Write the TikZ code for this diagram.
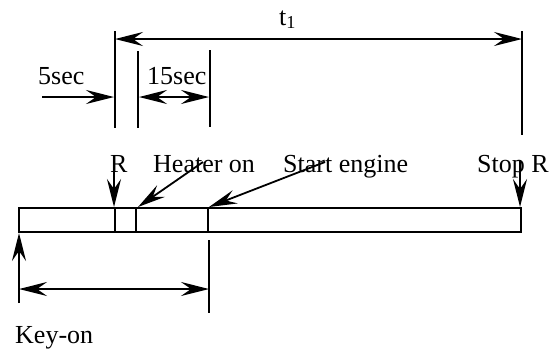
\documentclass[tikz,border=0pt]{standalone}
\usepackage{fontspec}
\setmainfont{Liberation Serif}
\usetikzlibrary{arrows.meta}
\begin{document}
\begin{tikzpicture}[x=1pt,y=-1pt,
  lbl/.style={anchor=base west,inner sep=0pt,font=\fontsize{26}{30}\selectfont},
  tickline/.style={line width=1.8pt},
  hd/.tip={Stealth[length=28pt,width=14pt,inset=10pt]},
  arr/.style={line width=1.8pt,-hd},
  darr/.style={line width=1.8pt,hd-hd},
  barline/.style={line width=1.4pt}]
\useasboundingbox (0,0) rectangle (553,349);
% bar
\coordinate (b0) at (19,208);
\coordinate (b5) at (521,232);
\coordinate (d1t) at (115,208); \coordinate (d1b) at (115,232);
\coordinate (d2t) at (136,208); \coordinate (d2b) at (136,232);
\coordinate (d3t) at (208,208); \coordinate (d3b) at (208,232);
\draw[barline] (b0) rectangle (b5);
\draw[barline] (d1t) -- (d1b) (d2t) -- (d2b) (d3t) -- (d3b);
% top ticks
\coordinate (k1a) at (115,31); \coordinate (k1b) at (115,128);
\coordinate (k2a) at (138,51); \coordinate (k2b) at (138,128);
\coordinate (k3a) at (210,50); \coordinate (k3b) at (210,127);
\coordinate (k4a) at (522,31); \coordinate (k4b) at (522,135);
\draw[tickline] (k1a) -- (k1b) (k2a) -- (k2b) (k3a) -- (k3b) (k4a) -- (k4b);
% dimension arrows
\coordinate (t1l) at (115,39); \coordinate (t1r) at (522,39);
\draw[darr] (t1l) -- (t1r);
\coordinate (s5a) at (42,97); \coordinate (s5b) at (114,97);
\draw[arr] (s5a) -- (s5b);
\coordinate (s15a) at (139,97); \coordinate (s15b) at (209,97);
\draw[darr] (s15a) -- (s15b);
% labels
\node[lbl] (t1) at (279,25) {t\textsubscript{1}};
\node[lbl] (five) at (38,84) {5sec};
\node[lbl] (fifteen) at (147,84) {15sec};
\node[lbl] (r) at (110,172) {R};
\node[lbl] (heater) at (153,172) {Heater on};
\node[lbl] (start) at (283,172) {Start engine};
\node[lbl] (stop) at (477,172) {Stop R};
\node[lbl] (keyon) at (15,343) {Key-on};
% pointer arrows
\coordinate (ra) at (114,157); \coordinate (rb) at (114,207);
\draw[arr] (ra) -- (rb);
\coordinate (ha) at (203,162); \coordinate (hb) at (138,207);
\draw[arr] (ha) -- (hb);
\coordinate (sa) at (325,162); \coordinate (sb) at (209,207);
\draw[arr] (sa) -- (sb);
\coordinate (pa) at (520,160); \coordinate (pb) at (520,207);
\draw[arr] (pa) -- (pb);
\coordinate (ka) at (19,303); \coordinate (kb) at (19,233);
\draw[arr] (ka) -- (kb);
% bottom dimension
\coordinate (ba) at (19,289); \coordinate (bb) at (209,289);
\draw[darr] (ba) -- (bb);
\coordinate (bt1) at (209,240); \coordinate (bt2) at (209,313);
\draw[tickline] (bt1) -- (bt2);
\end{tikzpicture}
\end{document}
